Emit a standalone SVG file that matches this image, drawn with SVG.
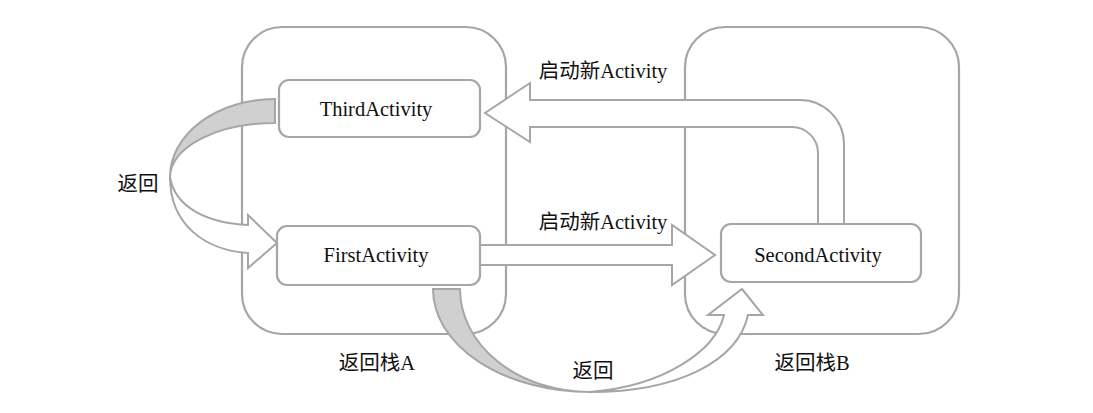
<svg xmlns="http://www.w3.org/2000/svg" width="1093" height="413" viewBox="0 0 1093 413">
<style>
.stack{fill:none;stroke:#a6a6a6;stroke-width:2.2}
.node rect{fill:#fff;stroke:#a6a6a6;stroke-width:2.2}
.arr{fill:#fff;stroke:#a6a6a6;stroke-width:2;stroke-linejoin:miter}
.back{fill:#d0d0d0;stroke:#a6a6a6;stroke-width:2}
text{font-family:"Liberation Serif","Noto Sans CJK SC",serif;font-size:20.5px;fill:#111;text-anchor:middle}
</style>
<rect width="1093" height="413" fill="#fff"/>
<g id="stackA"><rect class="stack" x="242" y="27" width="264" height="307" rx="40"/><text x="377" y="370">返回栈A</text></g>
<g id="stackB"><rect class="stack" x="685" y="27" width="274" height="307" rx="40"/><text x="812" y="370">返回栈B</text></g>
<g id="connectors">
<path class="arr" d="M818,224 L818,153 A26,26 0 0 0 792,127 L530,127 L530,142 L485,113 L530,83 L530,100 L800,100 A44,44 0 0 1 844,144 L844,224 Z"/>
<path class="arr" d="M480,245 L672,245 L672,225 L715,255 L672,285 L672,265 L480,265 Z"/>
<path class="back" d="M275,99 A105,78 0 0 0 170,177 A105,54 0 0 1 275,123 Z"/>
<path class="arr" d="M170,177 C175,208 208,223 248,225 L248,215 L277,243 L248,268 L248,253 C205,250 170,225 170,177 Z"/>
<path class="back" d="M433,289 A157,103 0 0 0 590,392 A130,103 0 0 1 460,289 Z"/>
<path class="arr" d="M590,392 C665,386 716,350 724,315 L708,315 L742,289 L763,315 L748,315 C738,360 680,392 590,392 Z"/>
<text x="603" y="78">启动新Activity</text>
<text x="603" y="229">启动新Activity</text>
<text x="138" y="191">返回</text>
<text x="593" y="378">返回</text>
</g>
<g id="third" class="node"><rect x="279" y="80" width="201" height="57" rx="10"/><text x="376" y="116">ThirdActivity</text></g>
<g id="first" class="node"><rect x="277" y="226" width="203" height="59" rx="10"/><text x="376" y="262">FirstActivity</text></g>
<g id="second" class="node"><rect x="721" y="224" width="200" height="58" rx="10"/><text x="818" y="262">SecondActivity</text></g>
</svg>
